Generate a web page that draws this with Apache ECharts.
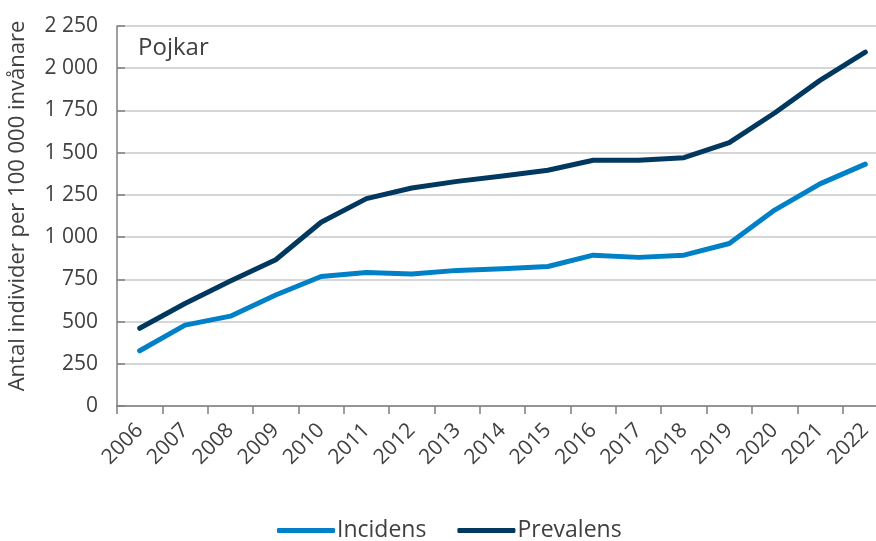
<!DOCTYPE html>
<html>
<head>
<meta charset="utf-8">
<script src="https://cdn.jsdelivr.net/npm/echarts@6/dist/echarts.min.js"></script>
<style>
  html, body { margin: 0; padding: 0; background: #ffffff; }
  #chart { width: 876px; height: 541px; }
</style>
</head>
<body>
<div id="chart"></div>
<script>
const years = ['2006', '2007', '2008', '2009', '2010', '2011', '2012', '2013', '2014',
  '2015', '2016', '2017', '2018', '2019', '2020', '2021', '2022']
const incidens = [327, 479, 532, 657, 767, 790, 781, 803, 813, 826, 893, 880, 893, 962, 1160, 1315, 1432]
const prevalens = [460, 607, 740, 866, 1088, 1228, 1291, 1330, 1362, 1396, 1455, 1455, 1470, 1560, 1735, 1928, 2096]

const textColor = '#404040'
const font = 'Open Sans'

// tusental med mellanslag, t.ex. 2 250
function fmt(v) {
  return String(v).replace(/\B(?=(\d{3})+(?!\d))/g, ' ')
}

const chart = echarts.init(document.getElementById('chart'))
chart.setOption({
  animation: false,
  title: {
    text: 'Pojkar',
    left: 133,
    top: 31,
    textStyle: { fontFamily: font, fontSize: 24, fontWeight: 'normal', color: textColor }
  },
  legend: {
    bottom: -6,
    left: 272,
    icon: 'roundRect',
    itemWidth: 58,
    itemHeight: 5,
    itemGap: 31,
    textStyle: { fontFamily: font, fontSize: 23, color: textColor, padding: [0, 0, 0, -3] },
    data: ['Incidens', 'Prevalens']
  },
  grid: { left: 117, top: 26, width: 771, height: 380, outerBoundsMode: 'none', containLabel: false },
  xAxis: {
    type: 'category',
    data: years,
    boundaryGap: true,
    axisLine: { lineStyle: { color: '#7f7f7f', width: 1.5 } },
    axisTick: { show: true, length: 8, lineStyle: { color: '#7f7f7f', width: 1.5 } },
    axisLabel: {
      rotate: 45,
      margin: 21,
      fontFamily: font,
      fontSize: 21,
      color: textColor
    }
  },
  yAxis: {
    type: 'value',
    min: 0,
    max: 2250,
    interval: 250,
    name: 'Antal individer per 100 000 invånare',
    nameLocation: 'middle',
    nameGap: 88,
    nameTextStyle: { fontFamily: font, fontSize: 22, color: textColor, padding: [0, 0, 0, 20] },
    axisLine: { show: true, lineStyle: { color: '#7f7f7f', width: 1.5 } },
    axisTick: { show: true, inside: true, length: 8, lineStyle: { color: '#7f7f7f', width: 1.5 } },
    splitLine: { lineStyle: { color: '#c8c8c8', width: 1.5 } },
    axisLabel: {
      margin: 19,
      fontFamily: font,
      fontSize: 21,
      color: textColor,
      formatter: fmt
    }
  },
  series: [
    {
      name: 'Incidens',
      type: 'line',
      data: incidens,
      symbol: 'none',
      color: '#0080c6',
      lineStyle: { width: 5, cap: 'round', join: 'round' }
    },
    {
      name: 'Prevalens',
      type: 'line',
      data: prevalens,
      symbol: 'none',
      color: '#00385f',
      lineStyle: { width: 5, cap: 'round', join: 'round' }
    }
  ]
})
</script>
</body>
</html>
